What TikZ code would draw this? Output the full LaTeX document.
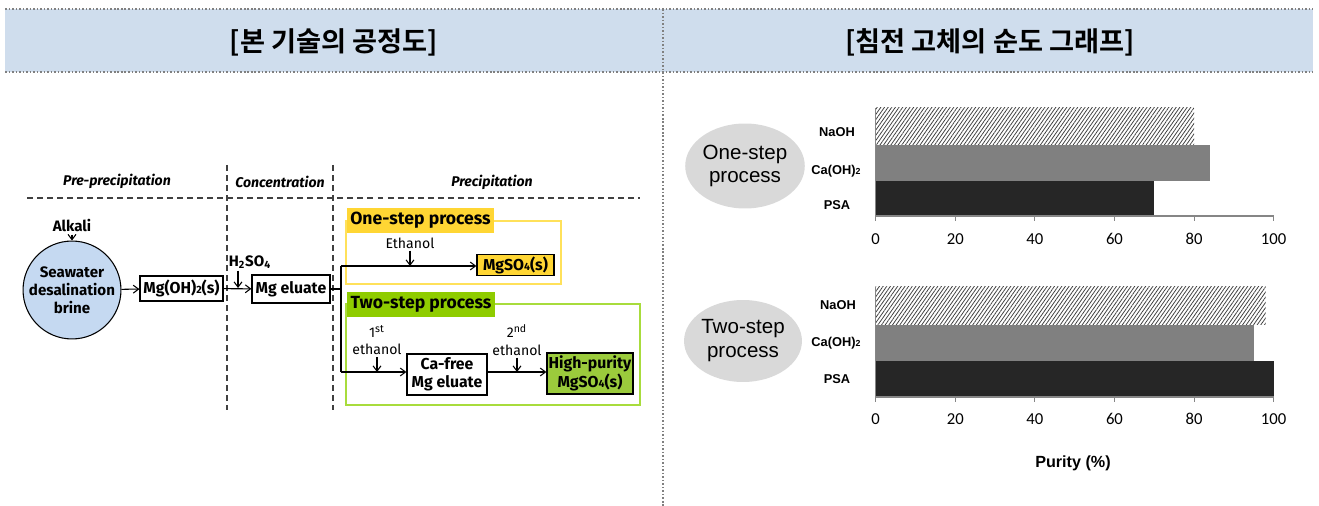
\documentclass[tikz,border=0pt]{standalone}
\usepackage{fontspec}
\setmainfont{Fira Sans}
\newfontfamily\krfont{Noto Sans CJK KR Bold}
\newfontfamily\arialfont{Liberation Sans}
\newfontfamily\calfont{Carlito}
\usetikzlibrary{arrows.meta,shapes.geometric,patterns.meta}
\definecolor{hdrblue}{HTML}{CFDDED}
\definecolor{brineblue}{HTML}{C5D9F1}
\definecolor{oneyellow}{HTML}{FFD634}
\definecolor{frameyellow}{HTML}{FFE15A}
\definecolor{twogreen}{HTML}{8FCC00}
\definecolor{framegreen}{HTML}{A8DC3C}
\definecolor{hpgreen}{HTML}{9BCB3C}
\definecolor{ovalgray}{HTML}{D9D9D9}
\definecolor{axisgray}{HTML}{868686}
\newcommand\lowdig[2][6]{{\fontsize{#1}{#1}\selectfont#2}}
\begin{document}
\begin{tikzpicture}[>={Straight Barb[length=3pt,width=4.5pt]},x=0.02cm,y=-0.02cm,
  line width=0.6pt,
  hdr/.style={font=\krfont\fontsize{15.5}{17}\selectfont},
  dotline/.style={draw=gray,line width=0.9pt,dash pattern=on 0.9pt off 1.1pt},
  sect/.style={draw=black!75,line width=0.8pt,dash pattern=on 3.4pt off 2.3pt},
  phase/.style={font=\bfseries\itshape\fontsize{8}{9}\selectfont},
  lbl/.style={font=\fontsize{8}{10}\selectfont,align=center,inner sep=1pt},
  box/.style={draw,line width=0.7pt,inner sep=0pt,align=center,
    font=\bfseries\fontsize{9}{10.5}\selectfont},
  brine/.style={circle,draw,line width=0.6pt,fill=brineblue,minimum size=1.78cm,
    inner sep=0pt,align=center,font=\bfseries\fontsize{8.6}{10.2}\selectfont},
  steplabel/.style={minimum width=2.95cm,minimum height=0.5cm,inner sep=0pt,
    font=\bfseries\fontsize{10}{11}\selectfont},
  hatchbar/.style={pattern={Lines[angle=55,distance=1.7pt,line width=0.45pt]},pattern color=black!75},
  axis/.style={draw=axisgray,line width=0.6pt},
  cat/.style={font=\arialfont\bfseries\fontsize{7.3}{8}\selectfont},
  num/.style={font=\calfont\fontsize{9.5}{11}\selectfont},
  oval/.style={ellipse,fill=ovalgray,inner sep=0pt,align=center,
    font=\arialfont\fontsize{11.7}{13.6}\selectfont}]
\useasboundingbox (0,0) rectangle (1319,506);
\fill[hdrblue] (5,9) rectangle (1313,72);
\draw[dotline] (5,9) -- (1313,9);
\draw[dotline] (5,72) -- (1313,72);
\draw[dotline] (663,9) -- (663,506);
\node[hdr] (lefthdr) at (334,42) {[본 기술의 공정도]};
\node[hdr] (righthdr) at (990,42) {[침전 고체의 순도 그래프]};

\draw[sect] (27,198) -- (640,198);
\draw[sect] (227,165) -- (227,410);
\draw[sect] (333,165) -- (333,410);
\node[phase] (pre) at (117,181) {Pre-precipitation};
\node[phase] (conc) at (280,182) {Concentration};
\node[phase] (prec) at (492,182) {Precipitation};

\node[lbl,font=\bfseries\fontsize{8.6}{10}\selectfont] (alkali) at (72,226) {Alkali};
\node[brine] (brine) at (72,290) {Seawater\\desalination\\brine};
\node[box,minimum width=1.66cm,minimum height=0.5cm] (mgoh) at (181.5,288.5) {Mg(OH)\lowdig{2}(s)};
\node[lbl,font=\bfseries\fontsize{8.6}{10}\selectfont] (acid) at (250,262) {H\textsubscript{2}SO\textsubscript{4}};
\node[box,minimum width=1.56cm,minimum height=0.56cm] (eluate) at (291,289) {Mg eluate};
\coordinate (acidtip) at (238,288);
\draw[->] (alkali) -- (brine);
\draw[->] (brine) -- (mgoh);
\draw[->] (mgoh) -- (eluate);
\draw[->] (acid.south -| acidtip) -- (acidtip);

\draw[draw=frameyellow,line width=1.1pt] (346,221) rectangle (561,284);
\node[steplabel,fill=oneyellow] (onelab) at (420.5,220.5) {One-step process};
\draw[draw=framegreen,line width=1.1pt] (346,304) rectangle (640,405);
\node[steplabel,fill=twogreen] (twolab) at (421,304.5) {Two-step process};

\node[box,fill=oneyellow,minimum width=1.54cm,minimum height=0.42cm] (mgso4) at (515.5,265) {MgSO\lowdig{4}(s)};
\node[box,fill=white,minimum width=1.6cm,minimum height=0.82cm] (cafree) at (447,374.5) {Ca-free\\Mg eluate};
\node[box,fill=hpgreen,minimum width=1.72cm,minimum height=0.82cm] (hp) at (590,373.5) {High-purity\\MgSO\lowdig{4}(s)};
\node[lbl] (eth) at (410,243) {Ethanol};
\node[lbl] (ethone) at (377,340) {1\textsuperscript{st}\\ethanol};
\node[lbl] (ethtwo) at (517,340) {2\textsuperscript{nd}\\ethanol};

\coordinate (jtop) at (341,266);
\coordinate (jbot) at (341,372);
\draw (eluate.east) -- (eluate.east -| jtop);
\draw (jtop) -- (jbot);
\draw[->] (jtop) -- (jtop -| mgso4.west);
\draw[->] (jbot) -- (jbot -| cafree.west);
\draw[->] (cafree.east |- jbot) -- (hp.west |- jbot);
\draw[->] (eth) -- (eth |- jtop);
\draw[->] (ethone) -- (ethone |- jbot);
\draw[->] (ethtwo) -- (ethtwo |- jbot);

\node[oval,minimum width=1.98cm,minimum height=1.7cm] (ovalone) at (745,166) {One-step\\process};
\node[oval,minimum width=1.96cm,minimum height=1.64cm] (ovaltwo) at (743,341) {Two-step\\process};
\node[cat] (naone) at (837,132) {NaOH};
\node[cat] (caone) at (836,171) {Ca(OH)\lowdig[5]{2}};
\node[cat] (psaone) at (837,205) {PSA};
\node[cat] (natwo) at (838,305) {NaOH};
\node[cat] (catwo) at (836,343) {Ca(OH)\lowdig[5]{2}};
\node[cat] (psatwo) at (837,379) {PSA};
\node[font=\arialfont\bfseries\fontsize{9.2}{11}\selectfont] (purity) at (1073,463) {Purity (\%)};

\begin{scope}[shift={(875.7,0)},x=0.0796cm]
\fill[hatchbar] (0,108) rectangle (80,145);
\fill[black!50] (0,145) rectangle (84,181);
\fill[black!85] (0,181) rectangle (70,216);
\draw[axis] (0,108) -- (0,216) -- (100,216);
\foreach \v in {0,20,...,100}{
  \draw[axis] (\v,216) -- (\v,221);
  \node[num] (ta\v) at (\v,239) {\v};
}
\fill[hatchbar] (0,287) rectangle (98,325);
\fill[black!50] (0,325) rectangle (95,361);
\fill[black!85] (0,361) rectangle (100,397);
\draw[axis] (0,287) -- (0,397) -- (100,397);
\foreach \v in {0,20,...,100}{
  \draw[axis] (\v,397) -- (\v,402);
  \node[num] (tb\v) at (\v,419) {\v};
}
\end{scope}
\end{tikzpicture}
\end{document}
